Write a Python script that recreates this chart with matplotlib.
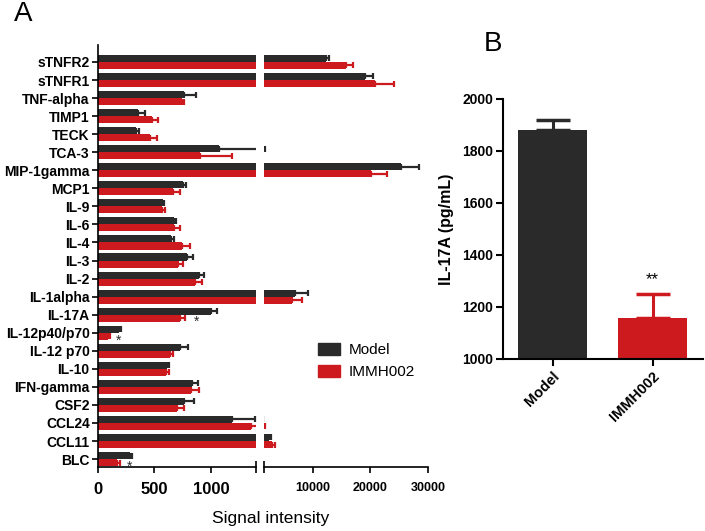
import matplotlib.pyplot as plt
from matplotlib.patches import Patch
from matplotlib.transforms import ScaledTranslation
import numpy as np

plt.rcParams['font.family'] = ['Liberation Sans', 'DejaVu Sans']

# cytokine array data (panel A), top to bottom
cytokines = ['sTNFR2', 'sTNFR1', 'TNF-alpha', 'TIMP1', 'TECK', 'TCA-3',
             'MIP-1gamma', 'MCP1', 'IL-9', 'IL-6', 'IL-4', 'IL-3', 'IL-2',
             'IL-1alpha', 'IL-17A', 'IL-12p40/p70', 'IL-12 p70', 'IL-10',
             'IFN-gamma', 'CSF2', 'CCL24', 'CCL11', 'BLC']
model = [12290, 19065, 761, 357, 338, 1076, 25330, 749, 572, 675, 646, 791,
         897, 6850, 997, 189, 731, 613, 829, 764, 1183, 2420, 283]
model_err = [520, 1445, 103, 59, 26, 574, 3100, 30, 9, 12, 29, 50,
             42, 2350, 59, 15, 68, 12, 59, 88, 212, 250, 21]
immh = [15760, 20800, 740, 478, 462, 903, 20100, 664, 563, 673, 740, 711,
        860, 6350, 726, 91, 637, 602, 820, 702, 1354, 2890, 165]
immh_err = [1270, 3340, 24, 53, 57, 280, 2730, 62, 33, 50, 74, 44,
            65, 1700, 41, 15, 30, 29, 77, 62, 300, 470, 30]
# significance marks: (row, x value)
stars = [('IL-17A', 870), ('IL-12p40/p70', 183), ('BLC', 277)]

# panel B: IL-17A ELISA
groups = ['Model', 'IMMH002']
il17a = [1879, 1157]
il17a_err = [39, 93]

black = '#2a2a2a'
red = '#cc1a1f'

fig = plt.figure(figsize=(7.05, 5.31), dpi=100)

# ---- panel A: broken x axis ----
axL = fig.add_axes([98/705, 64/531, 158/705, 422/531])
axR = fig.add_axes([264/705, 64/531, 164/705, 422/531])

y = np.arange(len(cytokines))
h = 0.39
zeros = np.zeros(len(y))
for ax in (axL, axR):
    ax.barh(y - h/2, model, height=h, color=black)
    ax.barh(y + h/2, immh, height=h, color=red)
    ax.errorbar(model, y - h/2, xerr=[zeros, model_err], fmt='none',
                ecolor=black, elinewidth=1.6, capsize=2.5, capthick=1.6)
    ax.errorbar(immh, y + h/2, xerr=[zeros, immh_err], fmt='none',
                ecolor=red, elinewidth=1.6, capsize=2.5, capthick=1.6)
    ax.set_ylim(22.44, -0.94)
    ax.spines['top'].set_visible(False)
    ax.spines['right'].set_visible(False)
    ax.spines['bottom'].set_linewidth(1.2)
    ax.spines['left'].set_linewidth(1.2)
    ax.tick_params(axis='x', which='major', direction='out', length=4,
                   width=1.2, pad=7)
    ax.tick_params(axis='x', which='minor', direction='inout', length=9,
                   width=1.2)

axL.set_xlim(0, 1400)
axL.set_xticks([0, 500, 1000])
axL.set_xticks([1400], minor=True)
axL.set_yticks(y)
axL.set_yticklabels(cytokines, fontweight='bold', fontsize=10)
axL.tick_params(axis='y', direction='out', length=4, width=1.2, pad=2)
for lab in axL.get_xticklabels():
    lab.set_fontweight('bold')
    lab.set_fontsize(12)

axR.set_xlim(1500, 30000)
axR.set_xticks([10000, 20000, 30000])
axR.set_xticks([1500], minor=True)
axR.spines['left'].set_visible(False)
axR.set_yticks([])
for lab in axR.get_xticklabels():
    lab.set_fontweight('bold')
    lab.set_fontsize(9)

for name, xv in stars:
    axL.text(xv, cytokines.index(name) + 0.42, '*', ha='center', va='center',
             fontsize=10, color=black)

fig.text(271/705, 1 - 518/531, 'Signal intensity', ha='center', va='center',
         fontsize=12.5)

fig.legend(handles=[Patch(color=black, label='Model'),
                    Patch(color=red, label='IMMH002')],
           loc='center left', bbox_to_anchor=(304/705, 1 - 361/531),
           frameon=False, fontsize=11, handlelength=1.45, handleheight=0.85,
           handletextpad=0.6, labelspacing=0.5)

fig.text(23/705, 1 - 14/531, 'A', ha='center', va='center', fontsize=20)
fig.text(493/705, 1 - 44/531, 'B', ha='center', va='center', fontsize=20)

# ---- panel B ----
axB = fig.add_axes([503/705, 172/531, 200/705, 260/531])
xb = np.arange(len(groups))
axB.bar(xb, il17a, width=0.69, color=[black, red])
for i in range(len(groups)):
    axB.errorbar(xb[i], il17a[i], yerr=[[0], [il17a_err[i]]], fmt='none',
                 ecolor=[black, red][i], elinewidth=2.2, capsize=12,
                 capthick=2.5)
axB.set_xlim(-0.495, 1.505)
axB.set_ylim(1000, 2000)
axB.set_yticks([1000, 1200, 1400, 1600, 1800, 2000])
axB.set_xticks(xb)
axB.set_xticklabels(groups, rotation=45, ha='right', va='top',
                    rotation_mode='anchor', fontweight='bold', fontsize=10.5)
shift = ScaledTranslation(0.05, -0.05, fig.dpi_scale_trans)
for lab in axB.get_xticklabels():
    lab.set_transform(lab.get_transform() + shift)
for lab in axB.get_yticklabels():
    lab.set_fontweight('bold')
    lab.set_fontsize(10)
axB.spines['top'].set_visible(False)
axB.spines['right'].set_visible(False)
axB.spines['bottom'].set_linewidth(1.5)
axB.spines['left'].set_linewidth(1.5)
axB.tick_params(direction='out', length=5, width=1.5, pad=2)
axB.set_ylabel('IL-17A (pg/mL)', fontweight='bold', fontsize=11.5, labelpad=6)
axB.text(1, il17a[1] + il17a_err[1] + 55, '**', ha='center', va='center',
         fontsize=12)

fig.savefig('out.png', dpi=100)
